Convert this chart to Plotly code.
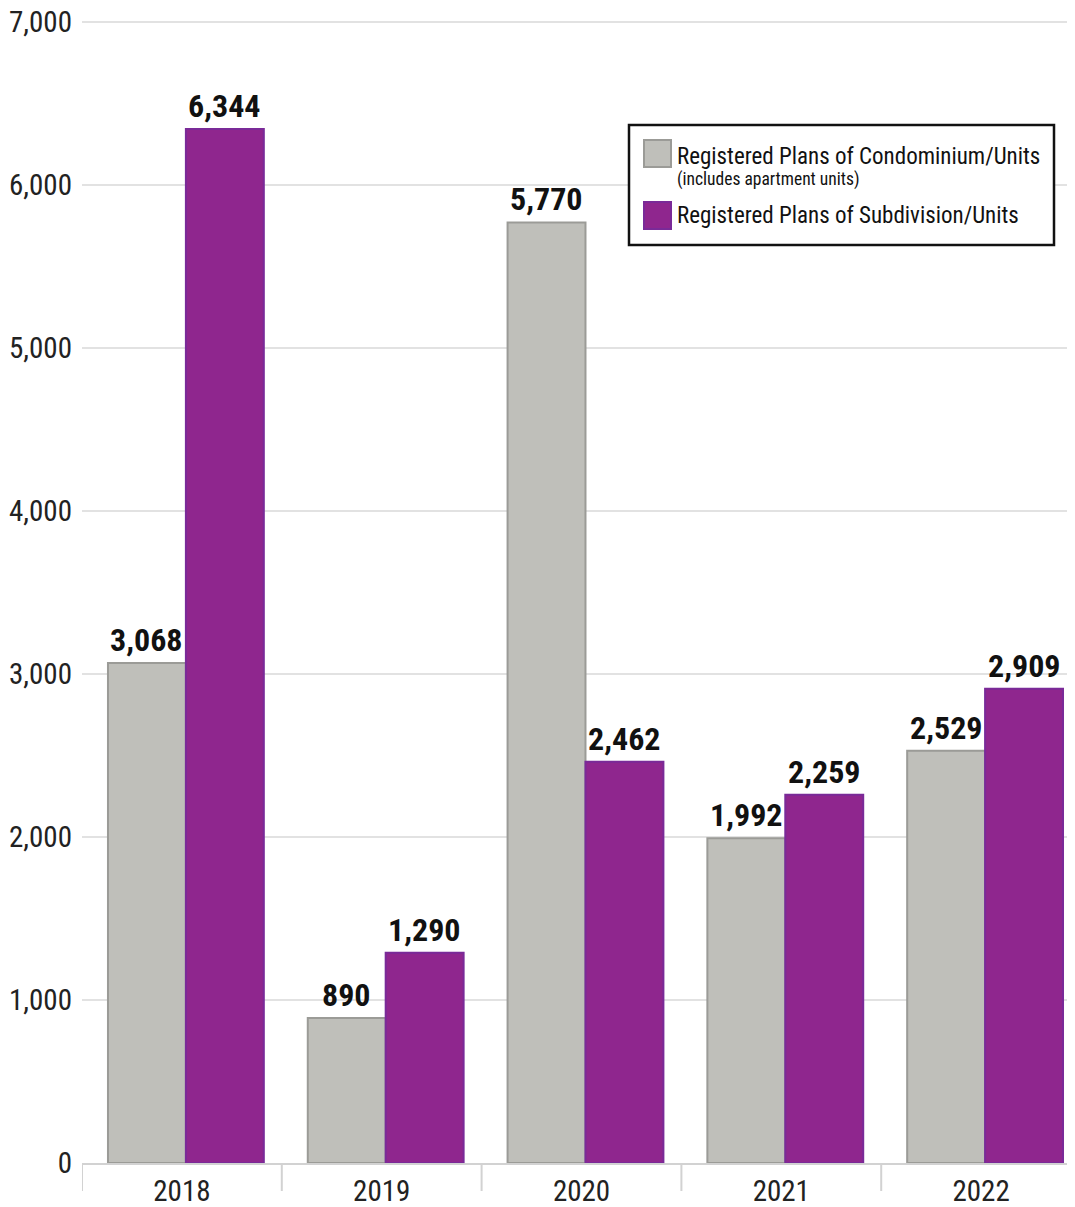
import plotly.graph_objects as go

years = ["2018", "2019", "2020", "2021", "2022"]
condo_units = [3068, 890, 5770, 1992, 2529]
subdivision_units = [6344, 1290, 2462, 2259, 2909]
y_ticks = [0, 1000, 2000, 3000, 4000, 5000, 6000, 7000]
y_tick_labels = ["0", "1,000", "2,000", "3,000", "4,000", "5,000", "6,000", "7,000"]
legend_names = ["Registered Plans of Condominium/Units", "Registered Plans of Subdivision/Units"]
legend_note = "(includes apartment units)"

FONT = "Roboto Condensed, Liberation Sans Narrow, DejaVu Sans, sans-serif"
GRAY = "#bfbfba"
GRAY_LINE = "#9b9b97"
PURPLE = "#8f268e"
PURPLE_LINE = "#7a2a98"

# page is offset by the 8px body margin
OFF = 8
W, H = 1075 - OFF, 1207 - OFF
ML, MR, MT, MB = 82 - OFF, 0, 11, 44
PW, PH = W - ML - MR, H - MT - MB
Y_TOP = 7018.4  # a hair above 7,000 so the top gridline is drawn

def px(x):
    return (x - OFF - ML) / PW

def py(y):
    return (H + OFF - MB - y) / PH

def f(size, color="#111", weight="normal"):
    return dict(family=FONT, size=size, color=color, weight=weight)

BAR_W = 0.39
OFF_GRAY = -0.37
OFF_PURPLE = 0.02

fig = go.Figure()
fig.add_trace(go.Bar(x=years, y=condo_units, name=legend_names[0],
                     width=BAR_W, offset=OFF_GRAY,
                     marker=dict(color=GRAY, line=dict(color=GRAY_LINE, width=2))))
fig.add_trace(go.Bar(x=years, y=subdivision_units, name=legend_names[1],
                     width=BAR_W, offset=OFF_PURPLE,
                     marker=dict(color=PURPLE, line=dict(color=PURPLE_LINE, width=2))))

for series, off in ((condo_units, OFF_GRAY), (subdivision_units, OFF_PURPLE)):
    for i, v in enumerate(series):
        fig.add_annotation(x=i + off + BAR_W / 2, y=v, xref="x", yref="y",
                           text=f"{v:,}", showarrow=False,
                           yanchor="bottom", xanchor="center", yshift=2,
                           font=f(32, "#111", "bold"))

# category boundary ticks
for i in range(len(years)):
    fig.add_shape(type="line", xref="x", yref="paper", x0=i - 0.5, x1=i - 0.5,
                  y0=0, y1=-28 / PH, line=dict(color="#d2d2d2", width=2))

# legend box
fig.add_shape(type="rect", xref="paper", yref="paper",
              x0=px(629), x1=px(1054), y0=py(245), y1=py(125),
              line=dict(color="#111", width=2.5), fillcolor="white", layer="above")
fig.add_shape(type="rect", xref="paper", yref="paper",
              x0=px(644), x1=px(671), y0=py(167), y1=py(140),
              line=dict(color=GRAY_LINE, width=2), fillcolor=GRAY, layer="above")
fig.add_shape(type="rect", xref="paper", yref="paper",
              x0=px(644), x1=px(671), y0=py(229), y1=py(202),
              line=dict(color=PURPLE_LINE, width=2), fillcolor=PURPLE, layer="above")
fig.add_annotation(xref="paper", yref="paper", x=px(675), y=py(156), text=legend_names[0],
                   showarrow=False, xanchor="left", yanchor="middle", font=f(23))
fig.add_annotation(xref="paper", yref="paper", x=px(675), y=py(179), text=legend_note,
                   showarrow=False, xanchor="left", yanchor="middle", font=f(17.5))
fig.add_annotation(xref="paper", yref="paper", x=px(675), y=py(216), text=legend_names[1],
                   showarrow=False, xanchor="left", yanchor="middle", font=f(23))

fig.update_layout(
    width=W, height=H,
    margin=dict(l=ML, r=MR, t=MT, b=MB, pad=0),
    plot_bgcolor="white", paper_bgcolor="white",
    barmode="overlay",
    showlegend=False,
    font=f(29, "#222"),
    xaxis=dict(type="category", range=[-0.5, 4.47], showline=True, linecolor="#d2d2d2",
               linewidth=2, ticks="", showgrid=False, ticklabelstandoff=1,
               automargin=False, ticklabeloverflow="allow", tickfont=f(29, "#222")),
    yaxis=dict(range=[0, Y_TOP], tickvals=y_ticks, ticktext=y_tick_labels,
               showgrid=True, gridcolor="#e2e2e2", gridwidth=2, zeroline=False,
               showline=False, ticks="", ticklabelstandoff=9,
               automargin=False, ticklabeloverflow="allow", tickfont=f(29, "#222")),
)

fig.write_html("out.html")
